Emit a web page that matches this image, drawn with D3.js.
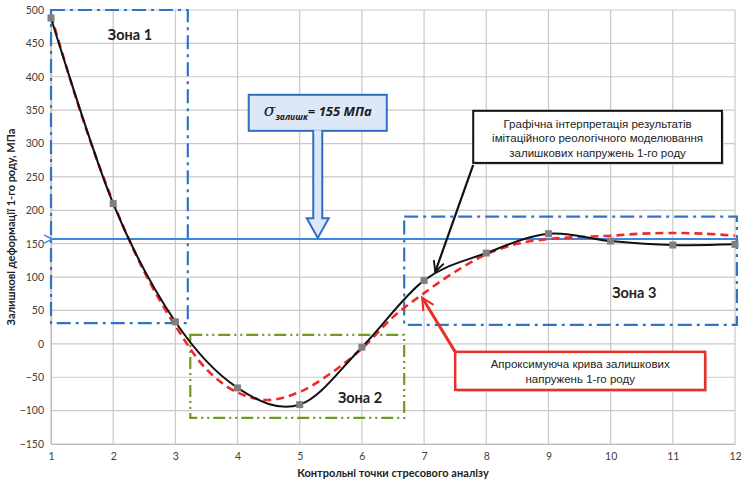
<!DOCTYPE html>
<html>
<head>
<meta charset="utf-8">
<script src="https://cdn.jsdelivr.net/npm/d3@7"></script>
<style>
  body { margin: 0; background: #fff; }
  svg { font-family: Lato, "Open Sans", sans-serif; }
</style>
</head>
<body>
<svg id="chart" width="743" height="481"></svg>
<script>
// points of the stress analysis (black curve)
var points = [1, 2, 3, 4, 5, 6, 7, 8, 9, 10, 11, 12];
var stress = [488, 210, 33, -66, -91, -5, 95, 136, 165, 154, 148, 149];
// approximating curve (red dashed), read at half steps
var approxX = [1, 1.5, 2, 2.5, 3, 3.5, 4, 4.5, 5, 5.5, 6, 6.5, 7, 7.5, 8, 8.5, 9, 9.5, 10, 10.5, 11, 11.5, 12];
var approxY = [492, 340, 212, 108, 27, -38, -73, -84, -72, -44, -7, 40, 76, 108, 134, 150, 157, 160, 162, 165, 166, 165, 162];
var yTicks = [-150, -100, -50, 0, 50, 100, 150, 200, 250, 300, 350, 400, 450, 500];
var sigmaLevel = 157;   // drawn level of the 155 MPa line
var zoneNames = ['Зона 1', 'Зона 2', 'Зона 3'];

var svg = d3.select('#chart');

var x = d3.scaleLinear().domain([1, 12]).range([51, 735]);
var y = d3.scaleLinear().domain([-150, 500]).range([444, 10]);

// grid
svg.append('g').selectAll('line').data(points).enter().append('line')
    .attr('x1', d => x(d)).attr('x2', d => x(d))
    .attr('y1', y(500)).attr('y2', y(-150))
    .attr('stroke', '#c9c9c9').attr('stroke-width', 1.2);
svg.append('g').selectAll('line').data(yTicks).enter().append('line')
    .attr('x1', x(1)).attr('x2', x(12))
    .attr('y1', d => y(d)).attr('y2', d => y(d))
    .attr('stroke', '#c9c9c9').attr('stroke-width', 1.2);

// axes
var yAxis = svg.append('g').attr('transform', 'translate(' + x(1) + ',0)')
    .call(d3.axisLeft(y).tickValues(yTicks).tickSize(0).tickPadding(7));
var xAxis = svg.append('g').attr('transform', 'translate(0,' + y(-150) + ')')
    .call(d3.axisBottom(x).tickValues(points).tickSize(0).tickPadding(9));
[yAxis, xAxis].forEach(function (a) {
    a.select('.domain').attr('stroke', '#bdbdbd').attr('stroke-width', 1.2);
    a.selectAll('text').attr('font-size', 10.5).attr('fill', '#404040')
        .attr('font-family', 'Lato, sans-serif');
});

svg.append('text').attr('transform', 'translate(15,' + y(175) + ') rotate(-90)')
    .attr('text-anchor', 'middle').attr('font-size', 11).attr('font-weight', 'bold')
    .attr('fill', '#222').text('Залишкові деформації 1-го роду, МПа');
svg.append('text').attr('x', 393).attr('y', 477)
    .attr('text-anchor', 'middle').attr('font-size', 11).attr('font-weight', 'bold')
    .attr('fill', '#222').text('Контрольні точки стресового аналізу');

// zones
function zone(x0, x1, y0, y1, color, dash) {
    svg.append('rect')
        .attr('x', x(x0)).attr('y', y(y1))
        .attr('width', x(x1) - x(x0)).attr('height', y(y0) - y(y1))
        .attr('fill', 'none').attr('stroke', color).attr('stroke-width', 2.2)
        .attr('stroke-dasharray', dash);
}
zone(1, 3.2, 31, 500, '#2f74c8', '14,5,3,5');
zone(3.24, 6.68, -111, 13.5, '#6f9a24', '12,4,2,4,2,4');
zone(6.68, 12.03, 28.5, 190.6, '#2f74c8', '14,5,3,5');

var zoneLabelPos = [[2.27, 455], [5.97, -88], [10.38, 69]];
zoneNames.forEach(function (n, i) {
    svg.append('text').attr('x', x(zoneLabelPos[i][0])).attr('y', y(zoneLabelPos[i][1]))
        .attr('text-anchor', 'middle').attr('font-size', 14.5).attr('font-weight', 'bold')
        .attr('fill', '#222').text(n);
});

// sigma line with arrow to the left
var defs = svg.append('defs');
defs.append('marker').attr('id', 'arrBlue').attr('viewBox', '0 0 10 10')
    .attr('refX', 1).attr('refY', 5).attr('markerWidth', 5).attr('markerHeight', 5)
    .attr('orient', 'auto-start-reverse').attr('markerUnits', 'strokeWidth')
    .append('path').attr('d', 'M9,1 L1,5 L9,9').attr('fill', 'none')
    .attr('stroke', '#3a86e0').attr('stroke-width', 1.4);
defs.append('marker').attr('id', 'arrBlack').attr('viewBox', '0 0 10 10')
    .attr('refX', 9).attr('refY', 5).attr('markerWidth', 6).attr('markerHeight', 6)
    .attr('orient', 'auto').attr('markerUnits', 'strokeWidth')
    .append('path').attr('d', 'M1,1 L9,5 L1,9').attr('fill', 'none')
    .attr('stroke', '#111').attr('stroke-width', 1.4);
defs.append('marker').attr('id', 'arrRed').attr('viewBox', '0 0 10 10')
    .attr('refX', 9).attr('refY', 5).attr('markerWidth', 5).attr('markerHeight', 5)
    .attr('orient', 'auto').attr('markerUnits', 'strokeWidth')
    .append('path').attr('d', 'M1,1 L9,5 L1,9').attr('fill', 'none')
    .attr('stroke', '#e8302a').attr('stroke-width', 1.4);

svg.append('line').attr('x1', x(12.03)).attr('x2', x(1.02))
    .attr('y1', y(sigmaLevel)).attr('y2', y(sigmaLevel))
    .attr('stroke', '#3a86e0').attr('stroke-width', 2)
    .attr('marker-end', 'url(#arrBlue)');

// red approximating curve
var approx = approxX.map((d, i) => [d, approxY[i]]);
svg.append('path').datum(approx)
    .attr('d', d3.line().x(d => x(d[0])).y(d => y(d[1])).curve(d3.curveCatmullRom))
    .attr('fill', 'none').attr('stroke', '#ee2b2b').attr('stroke-width', 2.6)
    .attr('stroke-dasharray', '8,5');

// black curve + markers
var series = points.map((d, i) => [d, stress[i]]);
svg.append('path').datum(series)
    .attr('d', d3.line().x(d => x(d[0])).y(d => y(d[1])).curve(d3.curveCardinal.tension(0)))
    .attr('fill', 'none').attr('stroke', '#111').attr('stroke-width', 2);
svg.append('g').selectAll('rect').data(series).enter().append('rect')
    .attr('x', d => x(d[0]) - 3.5).attr('y', d => y(d[1]) - 3.5)
    .attr('width', 7).attr('height', 7).attr('fill', '#808080');

// sigma box with hollow arrow
var sx = 5.29, sw = 4.5, hw = 11;
var arrowPath = d3.path();
arrowPath.moveTo(x(sx) - sw, y(319));
arrowPath.lineTo(x(sx) - sw, y(188));
arrowPath.lineTo(x(sx) - hw, y(188));
arrowPath.lineTo(x(sx), y(sigmaLevel) - 1);
arrowPath.lineTo(x(sx) + hw, y(188));
arrowPath.lineTo(x(sx) + sw, y(188));
arrowPath.lineTo(x(sx) + sw, y(319));
svg.append('path').attr('d', arrowPath.toString())
    .attr('fill', '#dce8f7').attr('stroke', '#2f6fc0').attr('stroke-width', 2);
svg.append('rect').attr('x', x(4.18)).attr('y', y(373))
    .attr('width', x(6.40) - x(4.18)).attr('height', y(319) - y(373))
    .attr('fill', '#dce8f7').attr('stroke', '#2f6fc0').attr('stroke-width', 2);
svg.append('rect').attr('x', x(sx) - sw + 1).attr('y', y(320)).attr('width', 2 * sw - 2).attr('height', 4)
    .attr('fill', '#dce8f7');
var st = svg.append('text').attr('x', x(5.29)).attr('y', y(341))
    .attr('text-anchor', 'middle').attr('font-family', '"Open Sans", sans-serif')
    .attr('font-style', 'italic').attr('font-weight', 'bold').attr('fill', '#1a1a1a');
st.append('tspan').attr('font-size', 17).attr('font-weight', 'normal').attr('font-family', '"DejaVu Serif", serif').text('σ');
st.append('tspan').attr('font-size', 8.5).attr('dy', 4).text('залишк');
st.append('tspan').attr('font-size', 13).attr('dy', -4).text('= 155 МПа');

// black callout
svg.append('line').attr('x1', x(7.79)).attr('y1', y(268)).attr('x2', x(7.18)).attr('y2', y(108))
    .attr('stroke', '#111').attr('stroke-width', 2.2).attr('marker-end', 'url(#arrBlack)');
svg.append('rect').attr('x', x(7.79) + 2).attr('y', y(349) + 2)
    .attr('width', x(11.79) - x(7.79)).attr('height', y(271) - y(349)).attr('fill', '#d0d0d0');
svg.append('rect').attr('x', x(7.79)).attr('y', y(349))
    .attr('width', x(11.79) - x(7.79)).attr('height', y(271) - y(349))
    .attr('fill', '#fff').attr('stroke', '#111').attr('stroke-width', 2);
var blackLines = ['Графічна інтерпретація результатів', 'імітаційного реологічного моделювання', 'залишкових напружень 1-го роду'];
svg.append('g').selectAll('text').data(blackLines).enter().append('text')
    .attr('x', x(9.79)).attr('y', (d, i) => y(349) + 17 + i * 14.5)
    .attr('text-anchor', 'middle').attr('font-family', '"Liberation Sans", Arial, sans-serif')
    .attr('font-size', 11.5).attr('fill', '#222').text(d => d);

// red callout
svg.append('line').attr('x1', x(7.5)).attr('y1', y(-12)).attr('x2', x(6.97)).attr('y2', y(69))
    .attr('stroke', '#e8302a').attr('stroke-width', 3).attr('marker-end', 'url(#arrRed)');
svg.append('rect').attr('x', x(7.5) + 2).attr('y', y(-12) + 2)
    .attr('width', x(11.52) - x(7.5)).attr('height', y(-69) - y(-12)).attr('fill', '#d0d0d0');
svg.append('rect').attr('x', x(7.5)).attr('y', y(-12))
    .attr('width', x(11.52) - x(7.5)).attr('height', y(-69) - y(-12))
    .attr('fill', '#fff').attr('stroke', '#e8302a').attr('stroke-width', 2.5);
var redLines = ['Апроксимуюча крива залишкових', 'напружень 1-го роду'];
svg.append('g').selectAll('text').data(redLines).enter().append('text')
    .attr('x', x(9.51)).attr('y', (d, i) => y(-12) + 16 + i * 15.5)
    .attr('text-anchor', 'middle').attr('font-family', '"Liberation Sans", Arial, sans-serif')
    .attr('font-size', 11.5).attr('fill', '#222').text(d => d);
</script>
</body>
</html>
